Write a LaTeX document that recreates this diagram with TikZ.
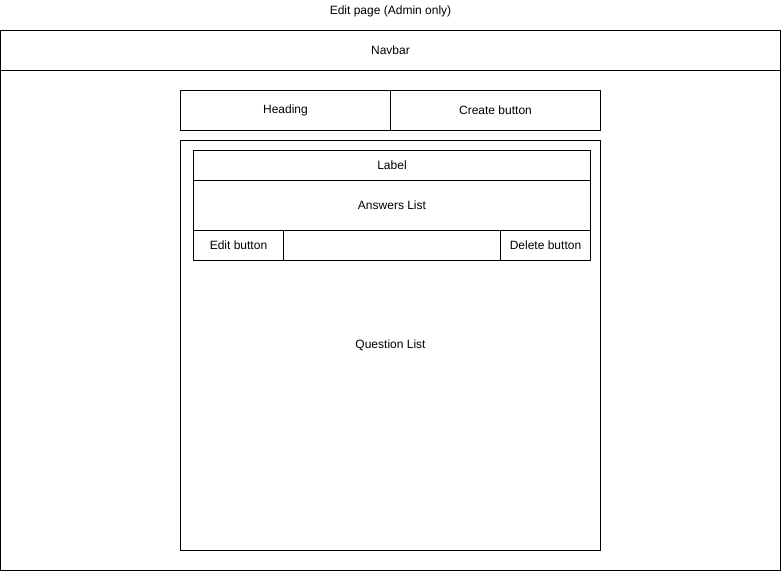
\documentclass[tikz,border=0pt]{standalone}
\usepackage{fontspec}
\setmainfont{Liberation Sans}
\begin{document}
\begin{tikzpicture}[x = 1pt, y = -1pt,
		box/.style = {draw, line width = 1pt, inner sep = 0pt, font = \fontsize{12}{14}\selectfont},
		txt/.style = {inner sep = 0pt, font = \fontsize{12}{14}\selectfont}]
		\useasboundingbox (0,0) rectangle (781,571);
		\node[txt] (title) at (390.5, 11) {Edit page (Admin only)};
		\node[box, minimum width = 780pt, minimum height = 540pt] (page) at (390.5, 300.5) {};
		\node[box, minimum width = 780pt, minimum height = 40pt] (navbar) at (390.5, 50.5) {Navbar};
		\node[box, minimum width = 210pt, minimum height = 40pt] (heading) at (285.5, 110.5) {Heading};
		\node[box, minimum width = 210pt, minimum height = 40pt] (create) at (495.5, 110.5) {Create button};
		\node[box, minimum width = 420pt, minimum height = 410pt] (questions) at (390.5, 345.5) {};
		\node[txt] (questionslabel) at (390.5, 345.5) {Question List};
		\node[box, minimum width = 397pt, minimum height = 30pt] (label) at (392, 165.5) {Label};
		\node[box, minimum width = 397pt, minimum height = 50pt] (answers) at (392, 205.5) {Answers List};
		\node[box, minimum width = 90pt, minimum height = 30pt] (edit) at (238.5, 245.5) {Edit button};
		\node[box, minimum width = 217pt, minimum height = 30pt] (gap) at (392, 245.5) {};
		\node[box, minimum width = 90pt, minimum height = 30pt] (delete) at (545.5, 245.5) {Delete button};
	\end{tikzpicture}
\end{document}
